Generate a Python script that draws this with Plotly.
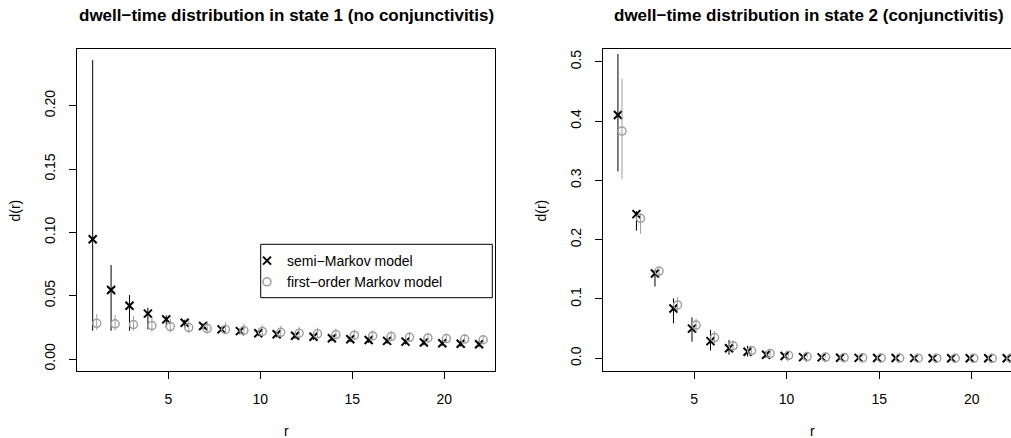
import plotly.graph_objects as go

W, H = 1011, 438

r = list(range(1, 23))

# state 1 (no conjunctivitis)
semi1 = [0.0945, 0.0545, 0.0421, 0.0358, 0.0313, 0.0286, 0.0260, 0.0234, 0.0220, 0.0203, 0.0195,
         0.0184, 0.0176, 0.0164, 0.0156, 0.0150, 0.0143, 0.0137, 0.0130, 0.0125, 0.0121, 0.0117]
semi1_lo = [0.0223, 0.0223, 0.0223, 0.0235, 0.0245, 0.0245, 0.0235, 0.0215, 0.0195, 0.0180, 0.0170,
            0.0160, 0.0150, 0.0140, 0.0133, 0.0127, 0.0120, 0.0114, 0.0108, 0.0103, 0.0098, 0.0094]
semi1_hi = [0.2360, 0.0742, 0.0505, 0.0405, 0.0345, 0.0310, 0.0280, 0.0255, 0.0240, 0.0225, 0.0215,
            0.0205, 0.0197, 0.0187, 0.0180, 0.0173, 0.0167, 0.0161, 0.0155, 0.0150, 0.0146, 0.0142]
first1 = [0.0282, 0.0278, 0.0272, 0.0264, 0.0256, 0.0248, 0.0240, 0.0233, 0.0225, 0.0218, 0.0211,
          0.0204, 0.0199, 0.0193, 0.0188, 0.0182, 0.0177, 0.0171, 0.0166, 0.0161, 0.0157, 0.0152]
first1_lo = [0.0229, 0.0226, 0.0222, 0.0216, 0.0211, 0.0205, 0.0199, 0.0194, 0.0188, 0.0182, 0.0177,
             0.0171, 0.0167, 0.0162, 0.0158, 0.0153, 0.0149, 0.0144, 0.0140, 0.0136, 0.0132, 0.0128]
first1_hi = [0.0355, 0.0348, 0.0340, 0.0330, 0.0320, 0.0310, 0.0300, 0.0290, 0.0280, 0.0270, 0.0262,
             0.0254, 0.0247, 0.0240, 0.0233, 0.0226, 0.0220, 0.0213, 0.0207, 0.0201, 0.0196, 0.0190]

# state 2 (conjunctivitis)
semi2 = [0.410, 0.243, 0.143, 0.084, 0.050, 0.029, 0.017, 0.011, 0.006, 0.004, 0.002,
         0.0015, 0.0010, 0.0007, 0.0005, 0.0004, 0.0003, 0.0002, 0.0002, 0.0001, 0.0001, 0.0001]
semi2_lo = [0.315, 0.215, 0.121, 0.059, 0.028, 0.013, 0.006, 0.003, 0.001, 0.0005, 0.0002,
            0.0001, 0.0001, 0.0, 0.0, 0.0, 0.0, 0.0, 0.0, 0.0, 0.0, 0.0]
semi2_hi = [0.513, 0.248, 0.149, 0.101, 0.069, 0.048, 0.031, 0.021, 0.012, 0.008, 0.005,
            0.003, 0.002, 0.0015, 0.0010, 0.0008, 0.0006, 0.0005, 0.0004, 0.0003, 0.0002, 0.0002]
first2 = [0.383, 0.236, 0.147, 0.090, 0.056, 0.035, 0.021, 0.013, 0.008, 0.005, 0.003,
          0.002, 0.0012, 0.0008, 0.0005, 0.0003, 0.0002, 0.00012, 0.00008, 0.00005, 0.00003, 0.00002]
first2_lo = [0.302, 0.210, 0.135, 0.077, 0.044, 0.025, 0.014, 0.008, 0.004, 0.002, 0.0012,
             0.0007, 0.0004, 0.0002, 0.0001, 0.0001, 0.0, 0.0, 0.0, 0.0, 0.0, 0.0]
first2_hi = [0.471, 0.244, 0.153, 0.103, 0.067, 0.046, 0.030, 0.020, 0.013, 0.009, 0.006,
             0.004, 0.0025, 0.0016, 0.0010, 0.0007, 0.0005, 0.0003, 0.0002, 0.00015, 0.0001, 0.0001]

titles = ["dwell\u2212time distribution in state 1 (no conjunctivitis)",
          "dwell\u2212time distribution in state 2 (conjunctivitis)"]
legend_names = ["semi\u2212Markov model", "first\u2212order Markov model"]
y1_ticks = [0.00, 0.05, 0.10, 0.15, 0.20]
y1_labels = ["0.00", "0.05", "0.10", "0.15", "0.20"]
y2_ticks = [0.0, 0.1, 0.2, 0.3, 0.4, 0.5]
y2_labels = ["0.0", "0.1", "0.2", "0.3", "0.4", "0.5"]
x_ticks = [5, 10, 15, 20]

FONT = "Liberation Sans, Arial, Helvetica, sans-serif"
GRAY = "#a0a0a0"
OFF = 0.11
FS = 14

def err(v, lo, hi):
    return dict(type="data", symmetric=False,
                array=[h - a for a, h in zip(v, hi)],
                arrayminus=[a - l for a, l in zip(v, lo)],
                width=0, thickness=1)

fig = go.Figure()

panels = [
    (semi1, semi1_lo, semi1_hi, first1, first1_lo, first1_hi, "x", "y", True),
    (semi2, semi2_lo, semi2_hi, first2, first2_lo, first2_hi, "x2", "y2", False),
]
for s, slo, shi, f, flo, fhi, xa, ya, show in panels:
    e1 = err(s, slo, shi); e1["color"] = "black"
    fig.add_trace(go.Scatter(
        x=[v - OFF for v in r], y=s, mode="markers", name=legend_names[0],
        marker=dict(symbol="x-thin", size=8, color="black", line=dict(width=2, color="black")),
        error_y=e1, xaxis=xa, yaxis=ya, showlegend=show))
    e2 = err(f, flo, fhi); e2["color"] = GRAY
    fig.add_trace(go.Scatter(
        x=[v + OFF for v in r], y=f, mode="markers", name=legend_names[1],
        marker=dict(symbol="circle-open", size=8, color=GRAY, line=dict(width=1.5, color=GRAY)),
        error_y=e2, xaxis=xa, yaxis=ya, showlegend=show))

def px(x):
    return x / W

def py(y):
    return 1 - y / H

ydom = [py(370.7), py(49)]
axis_common = dict(showgrid=False, zeroline=False, showline=True, linecolor="black", linewidth=1,
                   ticks="outside", ticklen=7, tickcolor="black", tickwidth=1,
                   tickfont=dict(family=FONT, size=FS, color="black"))

fig.update_layout(
    width=W, height=H,
    margin=dict(l=0, r=0, t=0, b=0),
    paper_bgcolor="white", plot_bgcolor="white",
    font=dict(family=FONT, size=FS, color="black"),
    xaxis=dict(domain=[px(77.3), px(495)], range=[0.054, 22.755], tickvals=x_ticks,
               mirror=True, anchor="y", ticklabelstandoff=8, **axis_common),
    yaxis=dict(domain=ydom, range=[-0.00924, 0.2448], tickvals=y1_ticks, ticktext=y1_labels,
               tickangle=-90, mirror=True, anchor="x", ticklabelstandoff=9, **axis_common),
    xaxis2=dict(domain=[px(603.3), 1.0], range=[0.10, 22.12], tickvals=x_ticks,
                mirror=True, anchor="y2", ticklabelstandoff=8, **axis_common),
    yaxis2=dict(domain=ydom, range=[-0.0209, 0.5214], tickvals=y2_ticks, ticktext=y2_labels,
                tickangle=-90, mirror=False, anchor="x2", ticklabelstandoff=9, **axis_common),
    legend=dict(x=px(247), y=py(245), xanchor="left", yanchor="top",
                bgcolor="rgba(0,0,0,0)", borderwidth=0,
                font=dict(family=FONT, size=FS, color="black"), itemwidth=30, tracegroupgap=0),
    shapes=[dict(type="rect", xref="paper", yref="paper",
                 x0=px(260.7), x1=px(492.3), y0=py(297.7), y1=py(244.3),
                 line=dict(color="black", width=1), fillcolor="rgba(0,0,0,0)")],
)

ann = []
for t, cx in zip(titles, [286, 809]):
    ann.append(dict(text="<b>" + t + "</b>", x=px(cx), y=py(15), xref="paper", yref="paper",
                    showarrow=False, xanchor="center", yanchor="middle",
                    font=dict(family=FONT, size=17, color="black")))
for cx in [286, 812]:
    ann.append(dict(text="r", x=px(cx), y=py(431), xref="paper", yref="paper", showarrow=False,
                    xanchor="center", yanchor="middle", font=dict(family=FONT, size=FS)))
for cx in [15, 541]:
    ann.append(dict(text="d(r)", x=px(cx), y=py(210.5), xref="paper", yref="paper", showarrow=False,
                    xanchor="center", yanchor="middle", textangle=-90, font=dict(family=FONT, size=FS)))
fig.update_layout(annotations=ann)

fig.write_html("out.html", config={"displayModeBar": False},
               post_script="document.body.style.margin='0';document.body.style.overflow='hidden';")
